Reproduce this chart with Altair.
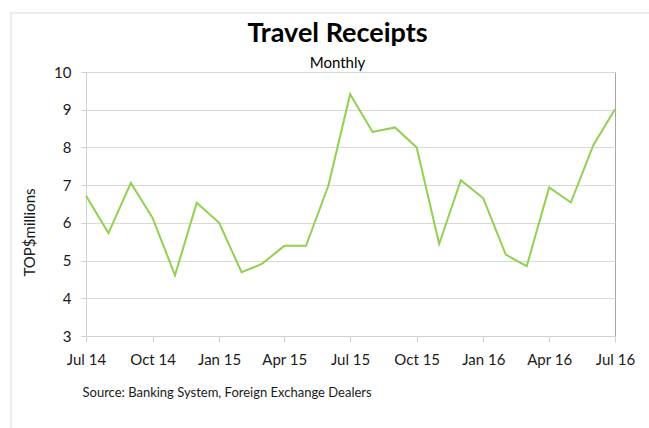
import altair as alt
import pandas as pd

months = [
    "2014-07-01", "2014-08-01", "2014-09-01", "2014-10-01", "2014-11-01", "2014-12-01",
    "2015-01-01", "2015-02-01", "2015-03-01", "2015-04-01", "2015-05-01", "2015-06-01",
    "2015-07-01", "2015-08-01", "2015-09-01", "2015-10-01", "2015-11-01", "2015-12-01",
    "2016-01-01", "2016-02-01", "2016-03-01", "2016-04-01", "2016-05-01", "2016-06-01",
    "2016-07-01",
]
receipts = [
    6.72, 5.73, 7.06, 6.13, 4.61, 6.53,
    6.00, 4.69, 4.91, 5.39, 5.39, 6.99,
    9.41, 8.41, 8.53, 8.00, 5.44, 7.13,
    6.65, 5.16, 4.85, 6.94, 6.54, 8.06,
    9.01,
]
tick_months = [(2014, 7), (2014, 10), (2015, 1), (2015, 4), (2015, 7),
               (2015, 10), (2016, 1), (2016, 4), (2016, 7)]
y_ticks = [3, 4, 5, 6, 7, 8, 9, 10]

df = pd.DataFrame({"month": months, "value": receipts})

FONT = "Lato"

x_enc = alt.X(
    "month:T",
    scale=alt.Scale(
        type="utc",
        domain=[alt.DateTime(year=2014, month=7, date=1, utc=True),
                alt.DateTime(year=2016, month=7, date=1, utc=True)],
        nice=False,
    ),
    axis=alt.Axis(
        values=[alt.DateTime(year=y, month=m, date=1, utc=True) for y, m in tick_months],
        labelExpr="utcFormat(datum.value, '%b %y')",
        grid=False,
        domainColor="#d0d0d0",
        tickColor="#d0d0d0",
        tickSize=6,
        labelFont=FONT,
        labelFontSize=15,
        labelColor="#1a1a1a",
        labelPadding=10,
        labelOverlap=False,
        labelFlush=False,
        title="Source: Banking System, Foreign Exchange Dealers",
        titleFont=FONT,
        titleFontSize=13,
        titleFontWeight="normal",
        titleColor="#1a1a1a",
        titleAnchor="start",
        titleAlign="left",
        titleBaseline="alphabetic",
        titleX=-4,
        titleY=60,
    ),
)

y_enc = alt.Y(
    "value:Q",
    scale=alt.Scale(domain=[3, 10], nice=False),
    axis=alt.Axis(
        values=y_ticks,
        gridColor="#d9d9d9",
        gridWidth=1,
        domainColor="#d0d0d0",
        tickColor="#d0d0d0",
        tickSize=5,
        labelFont=FONT,
        labelFontSize=15,
        labelColor="#1a1a1a",
        labelPadding=10,
        title="TOP$millions",
        titleFont=FONT,
        titleFontSize=15,
        titleFontWeight="normal",
        titleColor="#1a1a1a",
        titleAngle=-90,
        titleAlign="center",
        titleBaseline="middle",
        titleX=-57,
        titleY=160,
    ),
)

line = alt.Chart(df).mark_line(color="#92d050", strokeWidth=2).encode(x=x_enc, y=y_enc)

frame_data = alt.Data(values=[{"k": 1}])
top_rule = alt.Chart(frame_data).mark_rule(color="#d9d9d9", strokeWidth=1).encode(
    x=alt.value(-76), x2=alt.value(563), y=alt.value(-59)
)
left_rule = alt.Chart(frame_data).mark_rule(color="#d9d9d9", strokeWidth=1).encode(
    x=alt.value(-75), y=alt.value(-59), y2=alt.value(356)
)

chart = alt.layer(line, top_rule, left_rule).properties(
    width=529,
    height=264,
    title=alt.TitleParams(
        text="Travel Receipts",
        subtitle="Monthly",
        font=FONT,
        fontSize=27,
        fontWeight="bold",
        color="#000000",
        subtitleFont=FONT,
        subtitleFontSize=15,
        subtitleColor="#000000",
        subtitlePadding=8,
        anchor="middle",
        frame="group",
        dx=-13,
        dy=63,
        offset=4,
    ),
    autosize=alt.AutoSizeParams(type="none"),
    padding={"left": 86, "top": 72, "right": 34, "bottom": 92},
    background="white",
).configure_view(
    stroke="#a6a6a6", strokeWidth=1
)

chart.save("out.html", embed_options={"renderer": "svg", "actions": False})
